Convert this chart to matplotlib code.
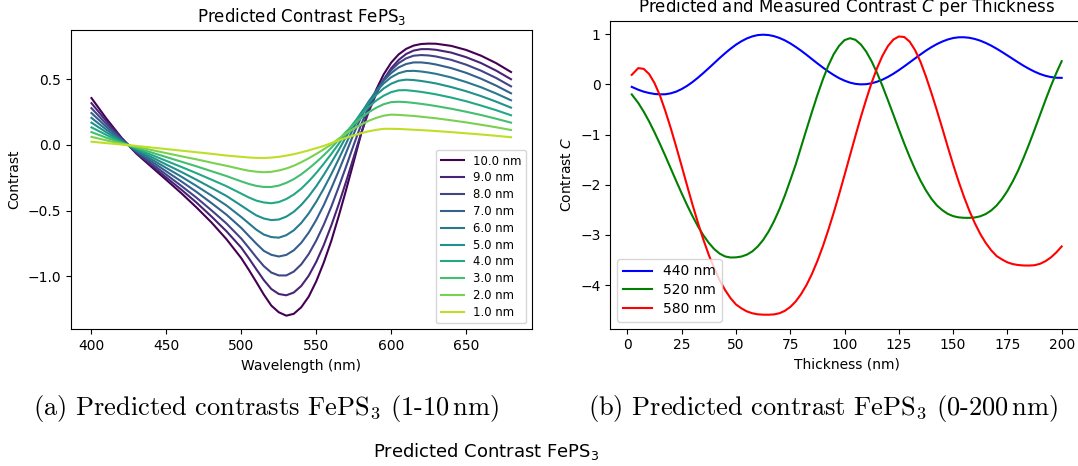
import matplotlib
matplotlib.use("Agg")
import matplotlib.pyplot as plt

plt.rcParams["mathtext.fontset"] = "dejavusans"

# ---------------- data: panel (a) ----------------
wavelength = [400, 410, 420, 430, 440, 450, 460, 470, 480, 490,
              500, 505, 510, 515, 520, 525, 530, 535, 540, 545, 550, 555, 560, 565,
              570, 575, 580, 585, 590, 595, 600, 605, 610, 615, 620, 625, 630,
              640, 650, 660, 670, 680]
thickness_labels = ["10.0 nm", "9.0 nm", "8.0 nm", "7.0 nm", "6.0 nm",
                    "5.0 nm", "4.0 nm", "3.0 nm", "2.0 nm", "1.0 nm"]
c10 = [0.357, 0.200, 0.056, -0.066, -0.166, -0.266, -0.367, -0.474, -0.588, -0.715,
       -0.861, -0.949, -1.042, -1.137, -1.221, -1.272, -1.298, -1.284, -1.234, -1.153, -1.037, -0.895, -0.731, -0.541,
       -0.339, -0.128, 0.086, 0.270, 0.420, 0.537, 0.626, 0.689, 0.731, 0.756, 0.768, 0.771, 0.770,
       0.754, 0.723, 0.679, 0.623, 0.555]
c9 = [0.318, 0.180, 0.051, -0.060, -0.155, -0.248, -0.340, -0.437, -0.543, -0.655,
      -0.781, -0.861, -0.945, -1.027, -1.095, -1.133, -1.143, -1.122, -1.072, -0.994, -0.889, -0.762, -0.614, -0.451,
      -0.276, -0.093, 0.091, 0.252, 0.387, 0.497, 0.584, 0.647, 0.692, 0.718, 0.729, 0.729, 0.724,
      0.703, 0.668, 0.623, 0.566, 0.500]
c8 = [0.280, 0.158, 0.045, -0.055, -0.141, -0.226, -0.311, -0.400, -0.496, -0.596,
      -0.712, -0.782, -0.854, -0.921, -0.970, -0.992, -0.992, -0.963, -0.908, -0.829, -0.727, -0.607, -0.471, -0.320,
      -0.162, 0.000, 0.156, 0.290, 0.404, 0.496, 0.569, 0.623, 0.659, 0.679, 0.684, 0.681, 0.673,
      0.648, 0.611, 0.565, 0.510, 0.446]
c7 = [0.243, 0.137, 0.039, -0.048, -0.125, -0.201, -0.277, -0.356, -0.441, -0.529,
      -0.631, -0.691, -0.750, -0.805, -0.835, -0.848, -0.836, -0.801, -0.744, -0.666, -0.570, -0.458, -0.331, -0.197,
      -0.057, 0.085, 0.212, 0.322, 0.414, 0.489, 0.547, 0.590, 0.616, 0.628, 0.628, 0.622, 0.612,
      0.585, 0.549, 0.504, 0.452, 0.393]
c6 = [0.206, 0.116, 0.033, -0.042, -0.109, -0.175, -0.241, -0.311, -0.384, -0.459,
      -0.548, -0.596, -0.644, -0.681, -0.700, -0.705, -0.686, -0.649, -0.593, -0.520, -0.432, -0.332, -0.223, -0.107,
      0.013, 0.133, 0.240, 0.331, 0.407, 0.468, 0.515, 0.546, 0.562, 0.564, 0.559, 0.551, 0.541,
      0.514, 0.479, 0.439, 0.392, 0.340]
c5 = [0.170, 0.096, 0.027, -0.035, -0.092, -0.149, -0.205, -0.264, -0.325, -0.387,
      -0.461, -0.499, -0.535, -0.559, -0.571, -0.567, -0.545, -0.508, -0.456, -0.390, -0.314, -0.228, -0.135, -0.039,
      0.064, 0.161, 0.246, 0.320, 0.381, 0.430, 0.466, 0.489, 0.497, 0.494, 0.487, 0.478, 0.468,
      0.441, 0.409, 0.372, 0.330, 0.284]
c4 = [0.134, 0.076, 0.021, -0.028, -0.075, -0.121, -0.167, -0.214, -0.263, -0.313,
      -0.370, -0.399, -0.423, -0.437, -0.443, -0.434, -0.411, -0.377, -0.332, -0.276, -0.213, -0.143, -0.069, 0.009,
      0.092, 0.167, 0.234, 0.290, 0.338, 0.375, 0.402, 0.416, 0.417, 0.411, 0.404, 0.395, 0.385,
      0.361, 0.333, 0.300, 0.265, 0.226]
c3 = [0.098, 0.055, 0.016, -0.021, -0.057, -0.092, -0.127, -0.162, -0.199, -0.236,
      -0.277, -0.296, -0.311, -0.319, -0.319, -0.309, -0.288, -0.260, -0.223, -0.179, -0.131, -0.078, -0.022, 0.040,
      0.102, 0.157, 0.207, 0.249, 0.283, 0.310, 0.326, 0.329, 0.326, 0.320, 0.313, 0.305, 0.296,
      0.276, 0.253, 0.228, 0.200, 0.170]
c2 = [0.062, 0.035, 0.010, -0.014, -0.038, -0.062, -0.086, -0.109, -0.134, -0.158,
      -0.184, -0.196, -0.203, -0.207, -0.204, -0.194, -0.179, -0.158, -0.131, -0.101, -0.068, -0.033, 0.004, 0.048,
      0.088, 0.124, 0.156, 0.184, 0.206, 0.223, 0.231, 0.229, 0.225, 0.221, 0.215, 0.209, 0.203,
      0.188, 0.172, 0.154, 0.135, 0.114]
c1 = [0.025, 0.014, 0.004, -0.007, -0.019, -0.031, -0.043, -0.055, -0.067, -0.080,
      -0.090, -0.095, -0.098, -0.099, -0.096, -0.090, -0.081, -0.070, -0.056, -0.041, -0.024, -0.007, 0.014, 0.035,
      0.055, 0.073, 0.090, 0.104, 0.115, 0.123, 0.123, 0.122, 0.119, 0.116, 0.113, 0.110, 0.106,
      0.098, 0.089, 0.080, 0.070, 0.059]
curves_a = [c10, c9, c8, c7, c6, c5, c4, c3, c2, c1]

# ---------------- data: panel (b) ----------------
thick = [2, 5, 7.5, 10, 12.5, 15, 17.5, 20, 22.5, 25,
         27.5, 30, 32.5, 35, 37.5, 40, 42.5, 45, 47.5, 50,
         52.5, 55, 57.5, 60, 62.5, 65, 67.5, 70, 72.5, 75,
         77.5, 80, 82.5, 85, 87.5, 90, 92.5, 95, 97.5, 100,
         102.5, 105, 107.5, 110, 112.5, 115, 117.5, 120, 122.5, 125,
         127.5, 130, 132.5, 135, 137.5, 140, 142.5, 145, 147.5, 150,
         152.5, 155, 157.5, 160, 162.5, 165, 167.5, 170, 172.5, 175,
         177.5, 180, 182.5, 185, 187.5, 190, 192.5, 195, 197.5, 200]
c_440 = [-0.050, -0.107, -0.145, -0.172, -0.191, -0.199, -0.197, -0.178, -0.144, -0.093,
         -0.029, 0.047, 0.134, 0.227, 0.325, 0.425, 0.525, 0.621, 0.710, 0.791,
         0.859, 0.915, 0.956, 0.982, 0.990, 0.983, 0.961, 0.925, 0.877, 0.817,
         0.747, 0.671, 0.589, 0.503, 0.418, 0.336, 0.258, 0.187, 0.124, 0.074,
         0.035, 0.010, 0.000, 0.004, 0.022, 0.053, 0.095, 0.149, 0.212, 0.283,
         0.359, 0.438, 0.518, 0.597, 0.673, 0.741, 0.802, 0.853, 0.894, 0.923,
         0.938, 0.939, 0.928, 0.905, 0.871, 0.826, 0.773, 0.712, 0.646, 0.577,
         0.507, 0.437, 0.370, 0.309, 0.254, 0.207, 0.171, 0.146, 0.132, 0.130]
c_520 = [-0.200, -0.370, -0.543, -0.739, -0.957, -1.188, -1.430, -1.679, -1.928, -2.172,
         -2.407, -2.627, -2.830, -3.008, -3.159, -3.283, -3.373, -3.429, -3.450, -3.447,
         -3.431, -3.393, -3.329, -3.232, -3.101, -2.933, -2.729, -2.489, -2.216, -1.911,
         -1.599, -1.245, -0.894, -0.548, -0.213, 0.096, 0.372, 0.601, 0.769, 0.882,
         0.920, 0.888, 0.796, 0.651, 0.457, 0.225, -0.036, -0.318, -0.605, -0.896,
         -1.180, -1.447, -1.695, -1.919, -2.114, -2.279, -2.411, -2.506, -2.579, -2.625,
         -2.650, -2.659, -2.660, -2.652, -2.629, -2.584, -2.514, -2.415, -2.285, -2.123,
         -1.931, -1.712, -1.459, -1.189, -0.904, -0.611, -0.318, -0.037, 0.224, 0.462]
c_580 = [0.190, 0.324, 0.309, 0.206, 0.024, -0.224, -0.535, -0.878, -1.247, -1.630,
         -2.019, -2.400, -2.761, -3.096, -3.401, -3.669, -3.906, -4.099, -4.260, -4.386,
         -4.463, -4.524, -4.561, -4.582, -4.589, -4.590, -4.584, -4.561, -4.513, -4.436,
         -4.326, -4.179, -3.997, -3.776, -3.519, -3.229, -2.904, -2.559, -2.190, -1.807,
         -1.417, -1.029, -0.651, -0.297, 0.036, 0.327, 0.574, 0.765, 0.893, 0.954,
         0.944, 0.851, 0.681, 0.447, 0.155, -0.170, -0.514, -0.872, -1.240, -1.595,
         -1.931, -2.240, -2.520, -2.766, -2.980, -3.158, -3.304, -3.419, -3.489, -3.546,
         -3.581, -3.600, -3.609, -3.610, -3.604, -3.576, -3.524, -3.450, -3.350, -3.230]
series_b = [(c_440, "440 nm", "blue"), (c_520, "520 nm", "green"), (c_580, "580 nm", "red")]

# ---------------- figure ----------------
fig = plt.figure(figsize=(10.78, 4.66), dpi=100)

ax1 = fig.add_axes([0.0654, 0.2934, 0.4281, 0.6422])
n = len(curves_a)
for i, (vals, lab) in enumerate(zip(curves_a, thickness_labels)):
    ax1.plot(wavelength, vals, color=plt.cm.viridis(i / n), lw=1.5, label=lab)
ax1.set_title("Predicted Contrast FePS$_3$", fontsize=12)
ax1.set_xlabel("Wavelength (nm)")
ax1.set_ylabel("Contrast")
ax1.legend(loc="lower right", fontsize="small", labelspacing=0.33)

ax2 = fig.add_axes([0.5661, 0.2946, 0.4387, 0.661])
for vals, lab, col in series_b:
    ax2.plot(thick, vals, color=col, lw=1.5, label=lab)
ax2.set_title("Predicted and Measured Contrast $C$ per Thickness", fontsize=12)
ax2.set_xlabel("Thickness (nm)")
ax2.set_ylabel("Contrast $C$")
ax2.set_xticks([0, 25, 50, 75, 100, 125, 150, 175, 200])
ax2.legend(loc="lower left", fontsize=10, labelspacing=0.35, handlelength=2.1)

cap_kw = dict(ha="center", va="center", fontsize=19, family="cmr10", math_fontfamily="cm")
fig.text(266 / 1078, 1 - 408 / 466, "(a) Predicted contrasts FePS$_3$ (1-10$\\,$nm)", **cap_kw)
fig.text(823 / 1078, 1 - 408 / 466, "(b) Predicted contrast FePS$_3$ (0-200$\\,$nm)", **cap_kw)
fig.text(486 / 1078, 1 - 451 / 466, "Predicted Contrast FePS$_3$", ha="center", va="center", fontsize=13)

fig.savefig("out.png", dpi=100)
